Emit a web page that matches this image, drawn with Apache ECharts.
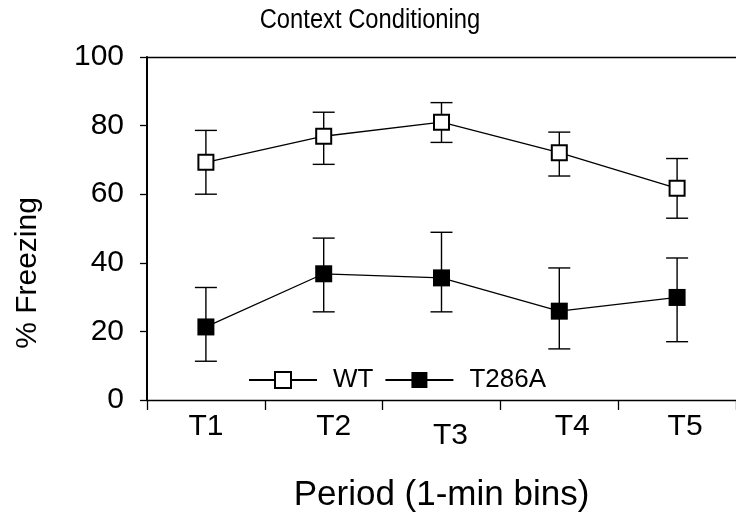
<!DOCTYPE html>
<html>
<head>
<meta charset="utf-8">
<script src="https://cdn.jsdelivr.net/npm/echarts@6/dist/echarts.min.js"></script>
<style>
html,body{margin:0;padding:0;background:#fff;}
#chart{width:736px;height:518px;}
</style>
</head>
<body>
<div id="chart"></div>
<script>
var categories = ['T1', 'T2', 'T3', 'T4', 'T5'];
var yTicks = [0, 20, 40, 60, 80, 100];
var wtMean  = [69.3, 76.9, 81.0, 72.1, 61.7];
var wtHigh  = [78.6, 83.9, 86.7, 78.1, 70.4];
var wtLow   = [60.0, 68.7, 75.1, 65.3, 53.0];
var tMean   = [21.3, 36.8, 35.6, 25.9, 29.9];
var tHigh   = [32.8, 47.2, 48.9, 38.5, 41.4];
var tLow    = [11.3, 25.7, 25.7, 14.9, 17.0];

var FONT = "'Liberation Sans', Arial, Helvetica, sans-serif";

// label nudges (horizontal shift, vertical shift) as in the original figure
var labelShift = [[0, 0], [10, 0], [9, 9], [13, 0], [8, 0]];

function errData(low, high) {
  return categories.map(function (c, i) { return [i, low[i], high[i]]; });
}
function renderErr(params, api) {
  var x = api.value(0);
  var lo = api.coord([x, api.value(1)]);
  var hi = api.coord([x, api.value(2)]);
  var half = 11;
  var st = { stroke: '#000', lineWidth: 1.4 };
  return {
    type: 'group',
    children: [
      { type: 'line', shape: { x1: hi[0], y1: hi[1], x2: lo[0], y2: lo[1] }, style: st },
      { type: 'line', shape: { x1: hi[0] - half, y1: hi[1], x2: hi[0] + half, y2: hi[1] }, style: st },
      { type: 'line', shape: { x1: lo[0] - half, y1: lo[1], x2: lo[0] + half, y2: lo[1] }, style: st }
    ]
  };
}

var catData = categories.map(function (c, i) {
  var s = labelShift[i];
  return { value: c, textStyle: { padding: [s[1], 0, 0, 2 * s[0]] } };
});

var chart = echarts.init(document.getElementById('chart'), null, { renderer: 'canvas' });
chart.setOption({
  backgroundColor: '#fff',
  animation: false,
  textStyle: { fontFamily: FONT, color: '#000' },
  legend: {
    data: ['WT', 'T286A'],
    left: 248,
    top: 367,
    padding: 0,
    itemWidth: 68,
    itemHeight: 20,
    itemGap: 11,
    textStyle: { fontFamily: FONT, fontSize: 26, color: '#000', padding: [0, 0, 0, 11] }
  },
  grid: { left: 147, right: -6, top: 57, bottom: 116 },
  xAxis: [{
    type: 'category',
    data: catData,
    boundaryGap: true,
    position: 'bottom',
    axisLine: { lineStyle: { color: '#000', width: 1.3 } },
    axisTick: { show: true, length: 10, lineStyle: { color: '#000', width: 1.3 } },
    axisLabel: { fontFamily: FONT, fontSize: 30, color: '#000', margin: 12 },
    name: 'Period (1-min bins)',
    nameLocation: 'middle',
    nameGap: 78,
    nameTextStyle: { fontFamily: FONT, fontSize: 35, color: '#000' }
  }, {
    type: 'category',
    data: categories,
    position: 'top',
    axisLine: { lineStyle: { color: '#000', width: 1.3 } },
    axisTick: { show: false },
    axisLabel: { show: false }
  }],
  yAxis: {
    type: 'value',
    min: 0, max: 100, interval: 20,
    axisLine: { show: true, lineStyle: { color: '#000', width: 2 } },
    axisTick: { show: true, length: 7, lineStyle: { color: '#000', width: 1.3 } },
    axisLabel: { fontFamily: FONT, fontSize: 30, color: '#000', margin: 23 },
    splitLine: { show: false }
  },
  graphic: [{
    type: 'text',
    x: 370, y: 21,
    scaleX: 0.88,
    style: { text: 'Context Conditioning', fontFamily: FONT, fontSize: 27, fill: '#000', textAlign: 'center', textVerticalAlign: 'middle' }
  }, {
    type: 'text',
    x: 28, y: 273,
    rotation: Math.PI / 2,
    style: { text: '% Freezing', fontFamily: FONT, fontSize: 30, fill: '#000', textAlign: 'center', textVerticalAlign: 'middle' }
  }],
  series: [
    { type: 'custom', name: 'WT err', data: errData(wtLow, wtHigh), renderItem: renderErr, z: 1, silent: true },
    { type: 'custom', name: 'T286A err', data: errData(tLow, tHigh), renderItem: renderErr, z: 1, silent: true },
    {
      type: 'line', name: 'WT', data: wtMean, z: 3,
      symbol: 'rect', symbolSize: 15,
      lineStyle: { color: '#000', width: 1.3 },
      itemStyle: { color: '#fff', borderColor: '#000', borderWidth: 2 }
    },
    {
      type: 'line', name: 'T286A', data: tMean, z: 3,
      symbol: 'rect', symbolSize: 17,
      lineStyle: { color: '#000', width: 1.3 },
      itemStyle: { color: '#000', borderColor: '#000', borderWidth: 0 }
    }
  ]
});
</script>
</body>
</html>
